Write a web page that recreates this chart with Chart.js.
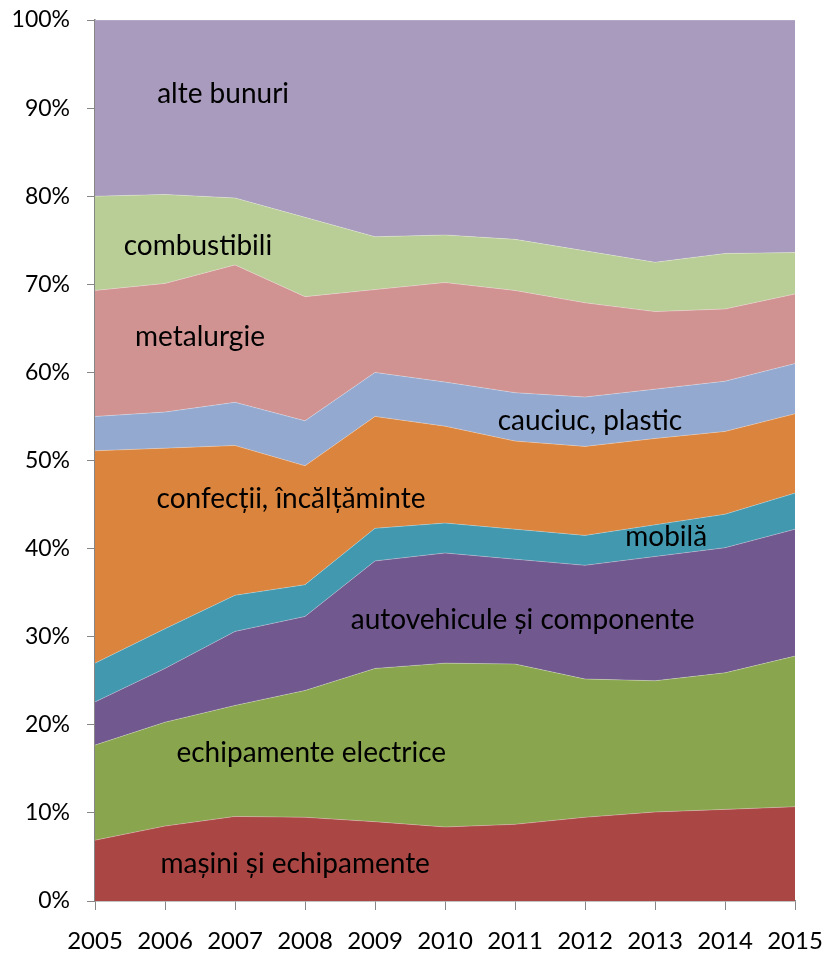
<!DOCTYPE html>
<html>
<head>
<meta charset="utf-8">
<script src="https://cdn.jsdelivr.net/npm/chart.js@4/dist/chart.umd.min.js"></script>
<style>
  html, body { margin: 0; padding: 0; background: #fff; }
  #wrap { width: 829px; height: 953px; }
</style>
</head>
<body>
<div id="wrap"><canvas id="myChart" width="829" height="953"></canvas></div>
<script>
// years on the x axis
const years = ['2005', '2006', '2007', '2008', '2009', '2010', '2011', '2012', '2013', '2014', '2015'];

// share of each group, %
const masini       = [6.9, 8.5, 9.6, 9.5, 9.0, 8.4, 8.7, 9.5, 10.1, 10.4, 10.7];
const electrice    = [10.8, 11.8, 12.6, 14.4, 17.4, 18.6, 18.2, 15.7, 14.9, 15.5, 17.1];
const autovehicule = [4.9, 6.1, 8.4, 8.4, 12.2, 12.5, 11.9, 12.9, 14.1, 14.2, 14.4];
const mobila       = [4.4, 4.5, 4.1, 3.6, 3.7, 3.4, 3.4, 3.4, 3.6, 3.8, 4.1];
const confectii    = [24.1, 20.5, 17.0, 13.5, 12.7, 11.0, 10.0, 10.1, 9.8, 9.4, 9.0];
const cauciuc      = [3.9, 4.1, 4.9, 5.1, 5.0, 5.0, 5.5, 5.6, 5.6, 5.7, 5.7];
const metalurgie   = [14.3, 14.6, 15.6, 14.1, 9.4, 11.3, 11.6, 10.7, 8.8, 8.2, 7.9];
const combustibili = [10.7, 10.1, 7.6, 9.0, 6.0, 5.4, 5.8, 5.9, 5.6, 6.3, 4.7];
const alteBunuri   = [20.0, 19.8, 20.2, 22.4, 24.6, 24.4, 24.9, 26.2, 27.5, 26.5, 26.4];

const seriesNames = ['mașini și echipamente', 'echipamente electrice', 'autovehicule și componente',
  'mobilă', 'confecții, încălțăminte', 'cauciuc, plastic', 'metalurgie', 'combustibili', 'alte bunuri'];
const seriesData = [masini, electrice, autovehicule, mobila, confectii, cauciuc, metalurgie, combustibili, alteBunuri];
const seriesColors = ['#AA4643', '#89A54E', '#71588F', '#4198AF', '#DB843D', '#93A9CF', '#D19392', '#B9CD96', '#A99BBD'];

// where each name sits inside its band: [year index, percent]
const labelSpots = [[2.86, 4.2], [3.09, 16.8], [6.11, 31.9], [8.16, 41.3], [2.8, 45.6],
  [7.07, 54.5], [1.5, 64.0], [1.47, 74.4], [1.83, 91.6]];

const FONT = 'Lato, "Open Sans", sans-serif';

const bandLabels = {
  id: 'bandLabels',
  afterDatasetsDraw(chart) {
    const ctx = chart.ctx;
    const xs = chart.scales.x, ys = chart.scales.y;
    ctx.save();
    ctx.fillStyle = '#000';
    ctx.font = '28px ' + FONT;
    ctx.textAlign = 'center';
    ctx.textBaseline = 'middle';
    seriesNames.forEach((name, i) => {
      const spot = labelSpots[i];
      ctx.fillText(name, xs.getPixelForValue(spot[0]), ys.getPixelForValue(spot[1]));
    });
    ctx.restore();
  }
};

const datasets = seriesData.map((values, i) => ({
  label: seriesNames[i],
  data: values,
  backgroundColor: seriesColors[i],
  borderColor: 'rgba(255,255,255,0.35)',
  borderWidth: 0.8,
  pointRadius: 0,
  tension: 0,
  fill: i === 0 ? 'origin' : '-1'
}));

new Chart(document.getElementById('myChart'), {
  type: 'line',
  data: { labels: years, datasets },
  options: {
    responsive: false,
    animation: false,
    layout: { padding: { top: 20, right: 34, left: 0, bottom: 0 } },
    plugins: { legend: { display: false }, tooltip: { enabled: false } },
    scales: {
      x: {
        offset: false,
        grid: { display: true, drawOnChartArea: false, tickLength: 9, color: '#868686' },
        border: { color: '#868686', width: 1.5 },
        ticks: { color: '#000', font: { family: FONT, size: 24 }, padding: 17, maxRotation: 0 },
        afterFit(scale) {
          scale.height = 52;
          scale.paddingLeft = 0;
          scale.paddingRight = 0;
        }
      },
      y: {
        stacked: true,
        min: 0,
        max: 100,
        z: 1,
        grid: {
          tickLength: 8,
          color: ctx => (ctx.tick && ctx.tick.value === 100 ? '#868686' : 'transparent'),
          tickColor: '#868686'
        },
        border: { color: '#868686', width: 1.5 },
        ticks: { stepSize: 10, color: '#000', font: { family: FONT, size: 23 }, padding: 17,
          callback: v => v + '%' },
        afterFit(scale) {
          scale.width = 95;
          scale.paddingTop = 0;
          scale.paddingBottom = 0;
        }
      }
    }
  },
  plugins: [bandLabels]
});
</script>
</body>
</html>
